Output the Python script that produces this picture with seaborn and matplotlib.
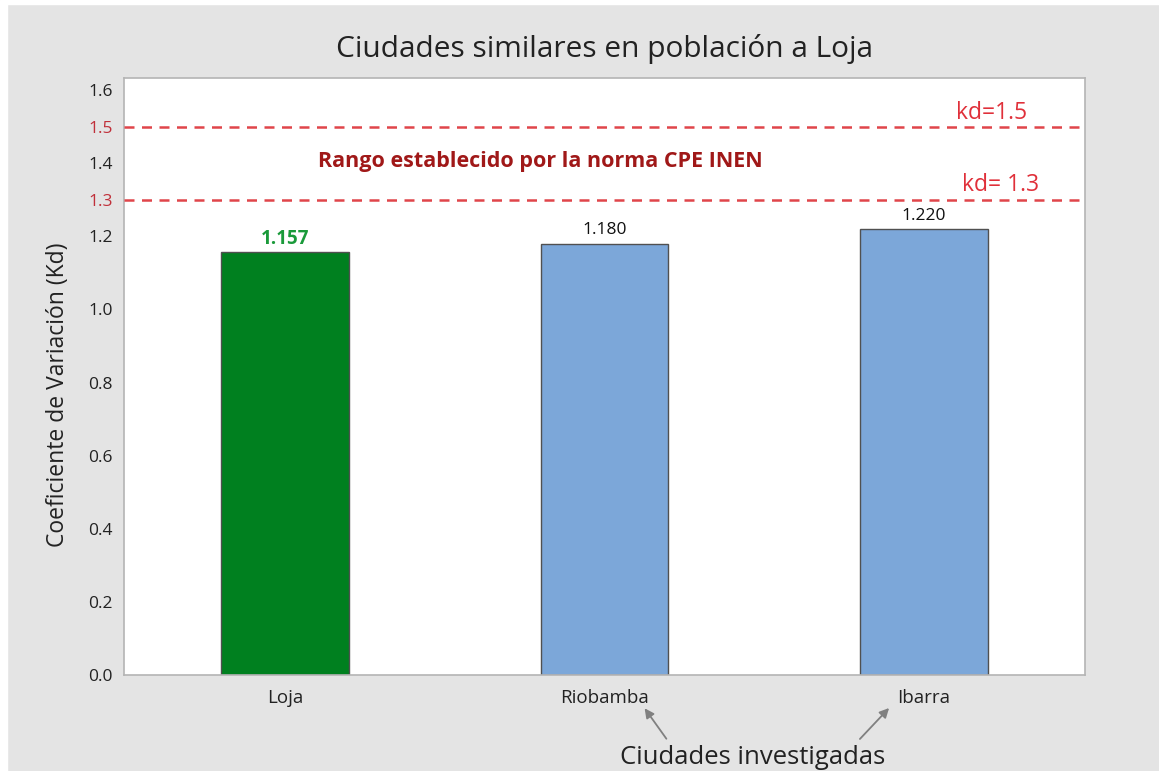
import matplotlib
matplotlib.use("Agg")
import matplotlib.pyplot as plt
import seaborn as sns
import pandas as pd
from matplotlib.patches import Rectangle

cities = ["Loja", "Riobamba", "Ibarra"]
kd_values = [1.157, 1.180, 1.220]
value_labels = ["1.157", "1.180", "1.220"]
limits = [1.5, 1.3]
limit_labels = ["kd=1.5", "kd= 1.3"]
yticks = [0.0, 0.2, 0.4, 0.6, 0.8, 1.0, 1.2, 1.4, 1.6]
bar_colors = ["#00801f", "#7ca7d9"]

sns.set_theme(style="white")
plt.rcParams['font.family'] = ['Open Sans', 'DejaVu Sans']

df = pd.DataFrame({"Ciudad": cities, "Kd": kd_values})

BG = "#e4e4e4"
fig = plt.figure(figsize=(11.59, 7.71), dpi=100, facecolor=BG)
fig.patches.append(Rectangle((0, 0), 7/1159, 1, transform=fig.transFigure, color="white", zorder=0))
fig.patches.append(Rectangle((0, 1 - 4/771), 1, 4/771, transform=fig.transFigure, color="white", zorder=0))

ax = fig.add_axes([124/1159, (771-675)/771, (1085-124)/1159, (675-78)/771])
ax.set_facecolor("white")

palette = {c: (bar_colors[0] if i == 0 else bar_colors[1]) for i, c in enumerate(cities)}
sns.barplot(data=df, x="Ciudad", y="Kd", hue="Ciudad", palette=palette, legend=False,
            width=0.4, edgecolor="#505050", linewidth=1.0, saturation=1, ax=ax)

ax.set_xlim(-0.504, 2.504)
ax.set_ylim(0, 1.633)

for y in limits:
    ax.axhline(y, color="#e0454a", linestyle=(0, (4, 3)), linewidth=1.8, zorder=3)

ax.set_yticks(yticks + limits)
ax.set_yticklabels([f"{t:.1f}" for t in yticks] + [f"{t:.1f}" for t in limits])
ax.tick_params(axis="both", which="major", direction="out", length=5, width=1,
               color="#b0b0b0", labelcolor="#222222", pad=3)
ax.tick_params(axis="y", labelsize=12.5)
ax.tick_params(axis="x", labelsize=13.5, pad=5)
for lbl, tick, val in zip(ax.get_yticklabels(), ax.yaxis.get_major_ticks(), yticks + limits):
    if val in limits:
        lbl.set_color("#c0303a")
        tick.tick1line.set_color("#d04048")

for s in ax.spines.values():
    s.set_color("#b4b4b4")
    s.set_linewidth(1.2)

for i, (v, t) in enumerate(zip(kd_values, value_labels)):
    if i == 0:
        ax.text(i, v + 0.036, t, ha="center", va="center", fontsize=13.5,
                fontweight="bold", color="#1a9a3a")
    else:
        ax.text(i, v + 0.036, t, ha="center", va="center", fontsize=12.5, color="#111111")

ax.text(2.21, 1.537, limit_labels[0], ha="center", va="center", fontsize=16.5, color="#e0303a")
ax.text(2.24, 1.34, limit_labels[1], ha="center", va="center", fontsize=16.5, color="#e0303a")
ax.text(0.80, 1.405, "Rango establecido por la norma CPE INEN", ha="center", va="center",
        fontsize=15.5, fontweight="bold", color="#a01818")

ax.set_title("Ciudades similares en población a Loja", fontsize=21.5, color="#222222", pad=15)
ax.set_ylabel("Coeficiente de Variación (Kd)", fontsize=16.5, color="#222222", labelpad=8)
ax.yaxis.set_label_coords(-54/961, 0.47)
ax.set_xlabel("")

fig.text(753/1159, 1 - 758/771, "Ciudades investigadas", ha="center", va="center",
         fontsize=18.5, color="#222222")
arrowprops = dict(arrowstyle="-|>", color="#808080", lw=1.3, mutation_scale=14)
ax.annotate("", xy=(643/1159, 1 - 706/771), xytext=(668/1159, 1 - 741/771),
            xycoords="figure fraction", textcoords="figure fraction", arrowprops=arrowprops,
            annotation_clip=False)
ax.annotate("", xy=(891/1159, 1 - 706/771), xytext=(858/1159, 1 - 741/771),
            xycoords="figure fraction", textcoords="figure fraction", arrowprops=arrowprops,
            annotation_clip=False)

fig.savefig("out.png", dpi=100, facecolor=BG)
